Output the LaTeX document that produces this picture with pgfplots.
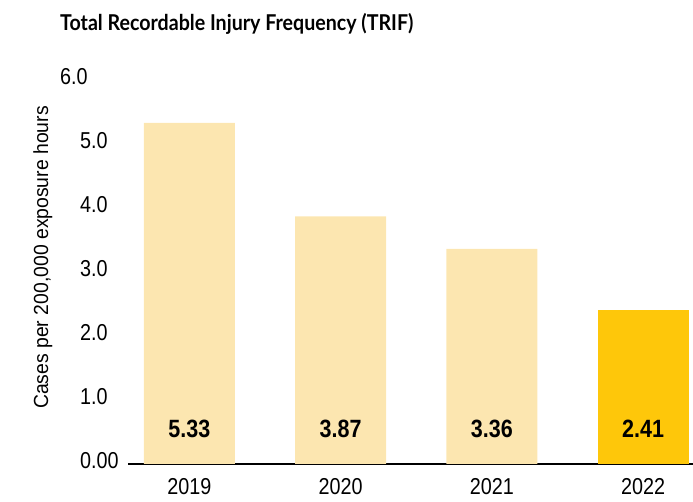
\documentclass[border=0pt]{standalone}
\usepackage{fontspec}
\usepackage{pgfplots}
\pgfplotsset{compat=1.18}
\setmainfont{Liberation Sans}
\newfontfamily\condfont{Liberation Sans}[FakeStretch=0.86]
\newfontfamily\labelfont{Liberation Sans}[FakeStretch=0.95]
\newfontfamily\titlefont{Lato}[FakeStretch=0.9]
\definecolor{lightbar}{RGB}{252,230,176}
\definecolor{goldbar}{RGB}{254,199,10}
\begin{document}
\begin{tikzpicture}[x=1pt,y=1pt]
\useasboundingbox (0,0) rectangle (693,502);
\node[anchor=base west, inner sep=0pt] at (60,471) {\titlefont\bfseries\fontsize{21.8}{22}\selectfont Total Recordable Injury Frequency (TRIF)};
\node[anchor=base, rotate=90, inner sep=0pt] at (48,244.5) {\labelfont\fontsize{20.4}{21}\selectfont Cases per 200,000 exposure hours};
\begin{axis}[
  at={(128pt,38pt)}, anchor=south west,
  scale only axis, width=565pt, height=384pt,
  xmin=-0.406, xmax=3.33, ymin=0, ymax=6,
  axis x line=bottom, axis y line=left,
  y axis line style={draw=none},
  x axis line style={line width=2.7pt, -},
  xtick={0,1,2,3}, xticklabels={2019,2020,2021,2022},
  ytick={0,1,2,3,4,5,6}, yticklabels={0.00,1.0,2.0,3.0,4.0,5.0,\hspace*{-20pt}6.0},
  major tick length=0pt,
  yticklabel style={anchor=west, xshift=-48pt, yshift=3.5pt, inner sep=0pt, font=\condfont\fontsize{23}{23}\selectfont},
  xticklabel style={anchor=north, yshift=-14pt, inner sep=0pt, font=\condfont\fontsize{23}{23}\selectfont},
  clip=false,
]
\addplot[ybar, bar shift=0pt, bar width=91pt, fill=lightbar, draw=none] coordinates {(0,5.33) (1,3.87) (2,3.36)};
\addplot[ybar, bar shift=0pt, bar width=91pt, fill=goldbar, draw=none] coordinates {(3,2.41)};
\addplot[only marks, mark=none, nodes near coords, point meta=explicit symbolic,
  nodes near coords align=center,
  every node near coord/.append style={inner sep=0pt, font=\condfont\bfseries\fontsize{25}{25}\selectfont}]
  table[meta=label, row sep=\\] {x y label\\ 0 0.547 5.33\\ 1 0.547 3.87\\ 2 0.547 3.36\\ 3 0.547 2.41\\};
\end{axis}
\end{tikzpicture}
\end{document}
